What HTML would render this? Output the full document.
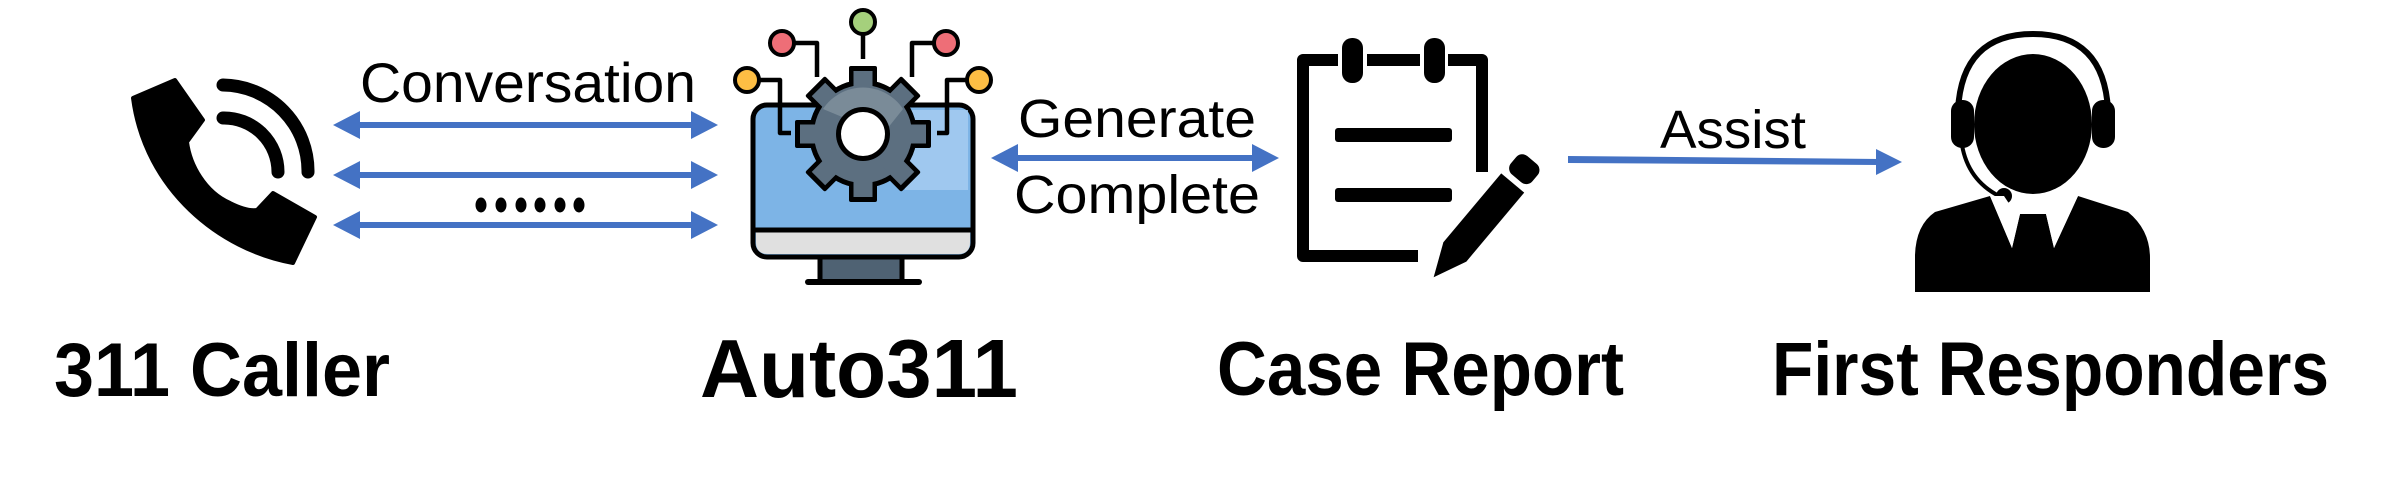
<!DOCTYPE html>
<html><head><meta charset="utf-8"><style>
html,body{margin:0;padding:0;background:#fff;}
svg{display:block;}
text{font-family:"Liberation Sans",sans-serif;fill:#000;}
</style></head><body>
<svg width="2383" height="481" viewBox="0 0 2383 481" xmlns="http://www.w3.org/2000/svg">
<!-- Phone -->
<path d="M133,98 L175,80 L203,120 L187,142 C190,165 205,192 230,203 C240,208 250,211 257,210 L273,193 L315,217 L293,263 C220,250 145,190 133,98 Z" fill="#000" stroke="#000" stroke-width="4" stroke-linejoin="round"/>
<path d="M223,118 A54,54 0 0 1 278,172" fill="none" stroke="#000" stroke-width="13" stroke-linecap="round"/>
<path d="M223,85 A86,86 0 0 1 308,172" fill="none" stroke="#000" stroke-width="13" stroke-linecap="round"/>

<!-- Conversation arrows -->
<g fill="#4472C4">
<rect x="355" y="122" width="340" height="6"/><polygon points="333,125 360,111 360,139"/><polygon points="718,125 691,111 691,139"/>
<rect x="355" y="172" width="340" height="6"/><polygon points="333,175 360,161 360,189"/><polygon points="718,175 691,161 691,189"/>
<rect x="355" y="222" width="340" height="6"/><polygon points="333,225 360,211 360,239"/><polygon points="718,225 691,211 691,239"/>
</g>
<text x="360" y="102" font-size="56" textLength="336" lengthAdjust="spacingAndGlyphs">Conversation</text>
<g fill="#000"><ellipse cx="481" cy="205" rx="5.5" ry="7.5"/><ellipse cx="501" cy="205" rx="5.5" ry="7.5"/><ellipse cx="521" cy="205" rx="5.5" ry="7.5"/><ellipse cx="540" cy="205" rx="5.5" ry="7.5"/><ellipse cx="560" cy="205" rx="5.5" ry="7.5"/><ellipse cx="579" cy="205" rx="5.5" ry="7.5"/></g>

<!-- Monitor -->
<rect x="820" y="255" width="82" height="27" fill="#4f6273" stroke="#000" stroke-width="5"/>
<rect x="805" y="279" width="117" height="6" rx="3" fill="#000"/>
<rect x="753" y="105" width="220" height="152" rx="14" fill="#7DB4E6" stroke="#000" stroke-width="5"/>
<path d="M900,110 L968,110 L968,190 L905,190 Z" fill="#A8CDF1" opacity="0.8"/>
<path d="M756,230 L970,230 L970,242 Q970,254 958,254 L768,254 Q756,254 756,242 Z" fill="#E0E0E0"/>
<line x1="755" y1="230" x2="971" y2="230" stroke="#000" stroke-width="5"/>
<g fill="none" stroke="#000" stroke-width="4.5" stroke-linejoin="round">
<path d="M863,35 V59"/>
<path d="M792,43 H817 V77"/>
<path d="M934,43 H912 V77"/>
<path d="M757,80 H780 V133 H791"/>
<path d="M968,80 H947 V133 H937"/>
</g>
<g stroke="#000" stroke-width="4">
<circle cx="863" cy="22" r="12" fill="#A5D07C"/>
<circle cx="782" cy="43" r="12" fill="#EE6E77"/>
<circle cx="946" cy="43" r="12" fill="#EE6E77"/>
<circle cx="747" cy="80" r="12" fill="#FDBE44"/>
<circle cx="979" cy="80" r="12" fill="#FDBE44"/>
</g>
<g transform="translate(863,134)">
<g fill="#000">
<circle r="54"/>
<g id="teeth"><rect x="-14" y="-68" width="28" height="30" rx="2"/></g>
<use href="#teeth" transform="rotate(45)"/><use href="#teeth" transform="rotate(90)"/><use href="#teeth" transform="rotate(135)"/><use href="#teeth" transform="rotate(180)"/><use href="#teeth" transform="rotate(225)"/><use href="#teeth" transform="rotate(270)"/><use href="#teeth" transform="rotate(315)"/>
</g>
<g fill="#5C6F80">
<circle r="49"/>
<g id="t2"><rect x="-9.5" y="-63" width="19" height="28"/></g>
<use href="#t2" transform="rotate(45)"/><use href="#t2" transform="rotate(90)"/><use href="#t2" transform="rotate(135)"/><use href="#t2" transform="rotate(180)"/><use href="#t2" transform="rotate(225)"/><use href="#t2" transform="rotate(270)"/><use href="#t2" transform="rotate(315)"/>
</g>
<path d="M-40,-25 A48,48 0 0 1 40,-25 L20,0 Z" fill="#7A8B98"/>
<circle r="27" fill="#000"/>
<circle r="22" fill="#fff"/>
</g>

<!-- Generate/Complete arrow -->
<rect x="1010" y="155" width="250" height="6" fill="#4472C4"/>
<polygon points="991,158 1018,144 1018,172" fill="#4472C4"/>
<polygon points="1279,158 1252,144 1252,172" fill="#4472C4"/>
<text x="1018" y="137" font-size="54" textLength="238" lengthAdjust="spacingAndGlyphs">Generate</text>
<text x="1014" y="213" font-size="54" textLength="246" lengthAdjust="spacingAndGlyphs">Complete</text>

<!-- Clipboard -->
<path d="M1418,256 H1303 V60 H1338 M1367,60 H1420 M1448,60 H1482 V172" fill="none" stroke="#000" stroke-width="12" stroke-linejoin="round"/>
<rect x="1342" y="38" width="21" height="45" rx="10" fill="#000"/>
<rect x="1424" y="38" width="21" height="45" rx="10" fill="#000"/>
<rect x="1335" y="128" width="117" height="14" rx="3" fill="#000"/>
<rect x="1335" y="188" width="117" height="14" rx="3" fill="#000"/>
<g transform="translate(1532,160) rotate(130)">
<rect x="0" y="-14" width="24" height="28" rx="8" fill="#000"/>
<path d="M30,-15 H120 L153,0 L120,15 H30 Z" fill="#000"/>
</g>

<!-- Assist arrow -->
<polygon points="1568,156 1880,159 1880,165 1568,163" fill="#4472C4"/>
<polygon points="1902,162 1876,149 1876,175" fill="#4472C4"/>
<text x="1660" y="148" font-size="54" textLength="146" lengthAdjust="spacingAndGlyphs">Assist</text>

<!-- Person -->
<ellipse cx="2033" cy="124" rx="59" ry="70" fill="#000"/>
<path d="M1958,110 Q1962,34 2033,34 Q2104,34 2108,110" fill="none" stroke="#000" stroke-width="6"/>
<rect x="1951" y="100" width="23" height="48" rx="11" fill="#000"/>
<rect x="2092" y="100" width="23" height="48" rx="11" fill="#000"/>
<path d="M1962,145 Q1968,180 1999,196" fill="none" stroke="#000" stroke-width="4"/>
<ellipse cx="2004" cy="196" rx="8" ry="8" fill="#000"/>
<path d="M1915,292 V255 Q1916,225 1935,212 L1990,196 L2012,248 L2020,214 L2046,214 L2054,248 L2078,196 L2128,212 Q2150,230 2150,258 V292 Z" fill="#000"/>
<polygon points="1990,196 2012,248 2020,214 2012,208 2004,196" fill="#fff"/>
<polygon points="2078,196 2054,248 2046,214 2054,208 2062,196" fill="#fff"/>

<!-- Labels -->
<text x="54" y="396" font-size="76" font-weight="bold" textLength="336" lengthAdjust="spacingAndGlyphs">311 Caller</text>
<text x="700" y="397" font-size="83" font-weight="bold" textLength="318" lengthAdjust="spacingAndGlyphs">Auto311</text>
<text x="1217" y="395" font-size="76" font-weight="bold" textLength="407" lengthAdjust="spacingAndGlyphs">Case Report</text>
<text x="1772" y="395" font-size="76" font-weight="bold" textLength="557" lengthAdjust="spacingAndGlyphs">First Responders</text>
</svg>
</body></html>
